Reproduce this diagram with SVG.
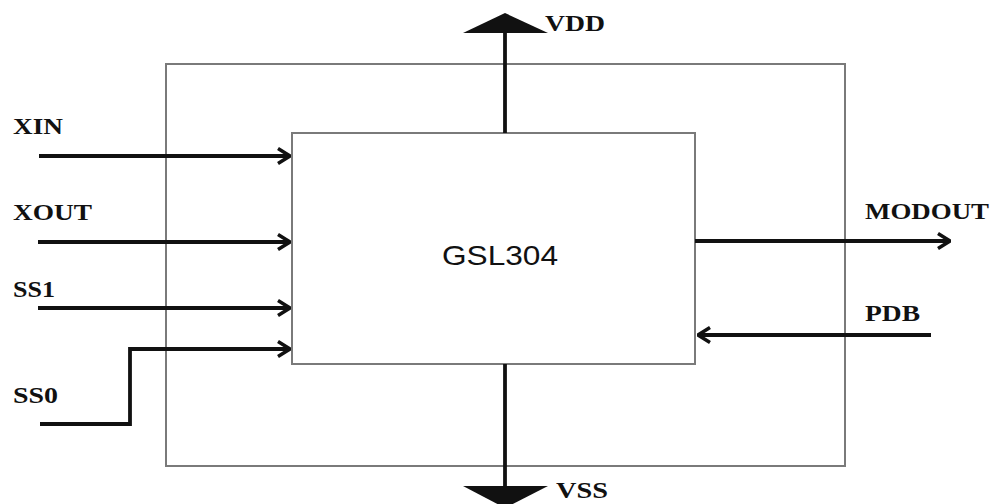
<svg xmlns="http://www.w3.org/2000/svg" width="997" height="504" viewBox="0 0 997 504">
<style>
.lbl{font-family:"Liberation Serif","Times New Roman",serif;font-weight:bold;font-size:24px;fill:#111}
.wire{stroke:#111;stroke-width:3.8;fill:none}
.box{fill:none;stroke:#7a7a7a;stroke-width:2}
</style>
<defs>
<marker id="ah" viewBox="0 0 15 18" refX="14" refY="9" markerWidth="15" markerHeight="18" markerUnits="userSpaceOnUse" orient="auto">
<path d="M2,1.5 L14,9 L2,16.5" fill="none" stroke="#111" stroke-width="3.5" stroke-linejoin="miter"/>
</marker>
</defs>
<rect width="997" height="504" fill="#fff"/>
<g id="outer"><rect class="box" x="166" y="64" width="679" height="402"/></g>
<g id="chip">
<rect x="292" y="133" width="403" height="231" fill="#fff" stroke="#7a7a7a" stroke-width="2"/>
<text x="500" y="265" text-anchor="middle" font-family="'Liberation Sans',Arial,sans-serif" font-size="28" textLength="116" lengthAdjust="spacingAndGlyphs" fill="#111">GSL304</text>
</g>
<g id="connectors">
<line class="wire" x1="505" y1="31" x2="505" y2="133"/>
<polygon points="505,13 463,33 548,33" fill="#111"/>
<line class="wire" x1="505" y1="364" x2="505" y2="488"/>
<polygon points="463,486 548,486 505,508" fill="#111"/>
<line class="wire" x1="39" y1="156" x2="290" y2="156" marker-end="url(#ah)"/>
<line class="wire" x1="38" y1="242" x2="290" y2="242" marker-end="url(#ah)"/>
<line class="wire" x1="38" y1="308" x2="290" y2="308" marker-end="url(#ah)"/>
<polyline class="wire" points="40,424 130,424 130,349 290,349" marker-end="url(#ah)"/>
<line class="wire" x1="695" y1="241" x2="950" y2="241" marker-end="url(#ah)"/>
<line class="wire" x1="931" y1="335" x2="698" y2="335" marker-end="url(#ah)"/>
</g>
<g id="labels">
<text class="lbl" x="13" y="134" textLength="50" lengthAdjust="spacingAndGlyphs">XIN</text>
<text class="lbl" x="13" y="220" textLength="79" lengthAdjust="spacingAndGlyphs">XOUT</text>
<text class="lbl" x="13" y="297" textLength="42" lengthAdjust="spacingAndGlyphs">SS1</text>
<text class="lbl" x="13" y="403" textLength="45" lengthAdjust="spacingAndGlyphs">SS0</text>
<text class="lbl" x="865" y="219" textLength="124" lengthAdjust="spacingAndGlyphs">MODOUT</text>
<text class="lbl" x="865" y="321" textLength="55" lengthAdjust="spacingAndGlyphs">PDB</text>
<text class="lbl" x="545" y="31" textLength="60" lengthAdjust="spacingAndGlyphs">VDD</text>
<text class="lbl" x="556" y="498" textLength="52" lengthAdjust="spacingAndGlyphs">VSS</text>
</g>
</svg>
